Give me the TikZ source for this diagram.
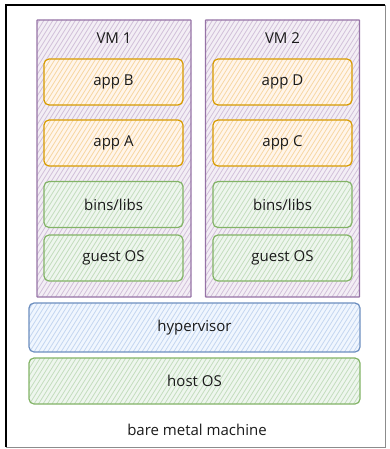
\documentclass[tikz,border=0pt]{standalone}
\usepackage{fontspec}
\setmainfont{Open Sans}
\definecolor{vmline}{HTML}{9673A6}\definecolor{vmfill}{HTML}{E1D5E7}
\definecolor{appline}{HTML}{D79B00}\definecolor{appfill}{HTML}{FFE6CC}
\definecolor{osline}{HTML}{82B366}\definecolor{osfill}{HTML}{D5E8D4}
\definecolor{hvline}{HTML}{6C8EBF}\definecolor{hvfill}{HTML}{DAE8FC}
\definecolor{ink}{HTML}{1A1A1A}
\begin{document}
\begin{tikzpicture}[x=1pt,y=-1pt,
  font=\fontsize{15}{17}\selectfont, text=ink,
  hatch/.style={path picture={
      \foreach \s in {-220,-215.5,...,350}
        \draw[#1, line width=0.8pt]
          ([xshift=\s pt]path picture bounding box.south west) -- ++(200pt,320pt);
  }},
  layer/.style 2 args={draw=#1, fill=#2!40, hatch=#2!80!#1,
      rounded corners=5pt, line width=1.2pt, inner sep=0pt, outer sep=0pt},
  vmbox/.style={layer={vmline}{vmfill}, rounded corners=0.5pt,
      minimum width=154pt, minimum height=277pt},
  appbox/.style={layer={appline}{appfill}, minimum width=139pt, minimum height=46pt},
  osbox/.style={layer={osline}{osfill}, minimum width=139pt, minimum height=46pt},
  wide/.style={minimum width=331pt},
]
\useasboundingbox (0,0) rectangle (389,449);

% machine frame
\draw[black!45, line width=0.8pt] (385,5) -- (385,447) -- (6,447);
\draw[black, line width=1.4pt] (6,447) -- (6,5) -- (385,5);
\coordinate (frame) at (195.5,226);

% virtual machines
\node[vmbox] (vm1) at (114,158.5) {};
\node[vmbox] (vm2) at (282.5,158.5) {};
\node (vm1label) at (114,38) {VM 1};
\node (vm2label) at (282.5,38) {VM 2};

% stack inside VM 1
\node[appbox] (appB) at (113.5,82) {app B};
\node[appbox] (appA) at (113.5,143) {app A};
\node[osbox]  (libs1) at (113.5,204.5) {bins/libs};
\node[osbox]  (guest1) at (113.5,258) {guest OS};

% stack inside VM 2
\node[appbox] (appD) at (282.5,82) {app D};
\node[appbox] (appC) at (282.5,143) {app C};
\node[osbox]  (libs2) at (282.5,204.5) {bins/libs};
\node[osbox]  (guest2) at (282.5,258) {guest OS};

% host layers
\node[layer={hvline}{hvfill}, wide, minimum height=49pt] (hyper) at (194.5,327.5) {hypervisor};
\node[osbox, wide] (host) at (194.5,381) {host OS};

\node (metal) at (197,430) {bare metal machine};
\end{tikzpicture}
\end{document}
